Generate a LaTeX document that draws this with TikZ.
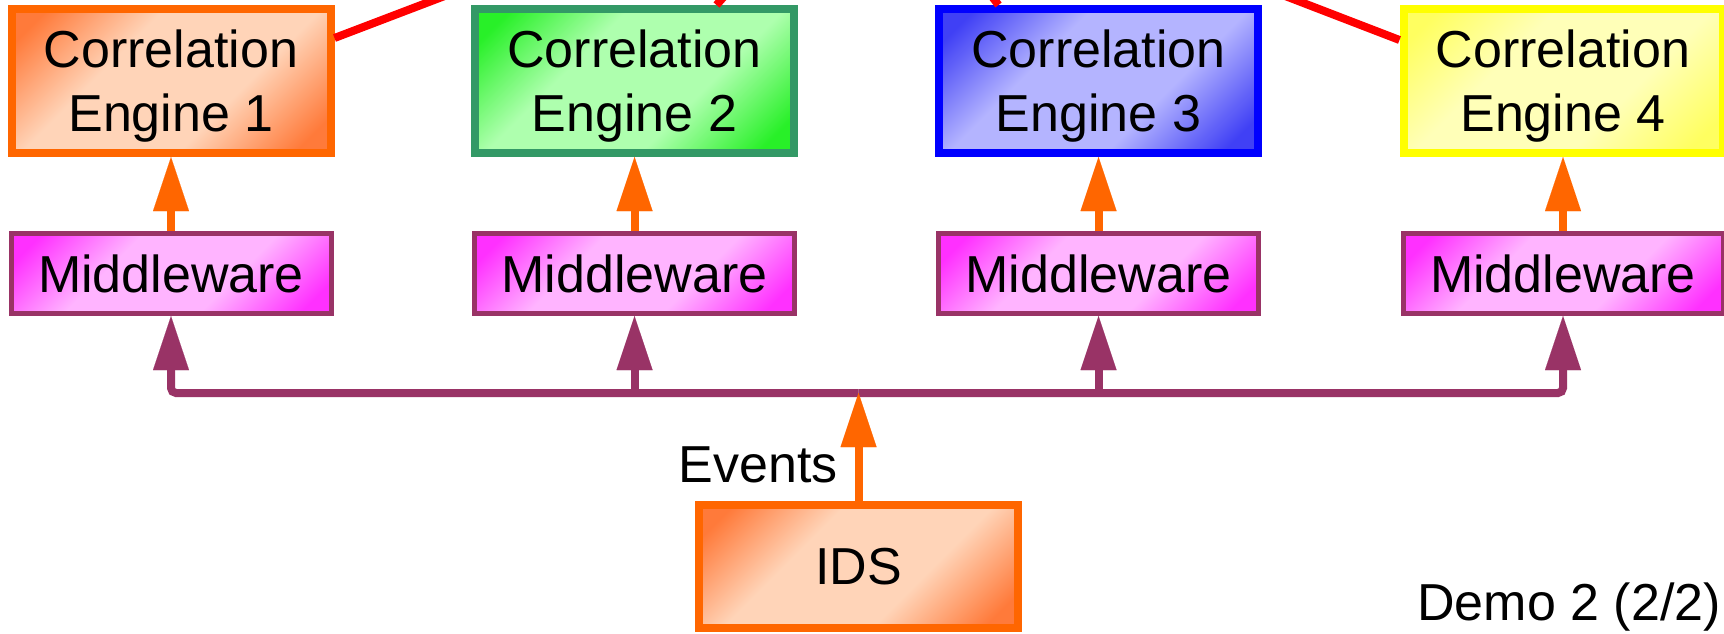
\documentclass[tikz,border=0pt]{standalone}
\usepackage{fontspec}
\newfontfamily\arialf{Liberation Sans}
\usetikzlibrary{arrows.meta}
\definecolor{ceorange}{HTML}{FF6600}
\definecolor{ceodark}{HTML}{FF7A3A}
\definecolor{ceolight}{HTML}{FFD4B8}
\definecolor{cegreen}{HTML}{339966}
\definecolor{cegdark}{HTML}{28F028}
\definecolor{ceglight}{HTML}{AEFFAE}
\definecolor{ceblue}{HTML}{0000FF}
\definecolor{cebdark}{HTML}{4040F5}
\definecolor{ceblight}{HTML}{B4B4FF}
\definecolor{ceyellow}{HTML}{FFFF00}
\definecolor{ceydark}{HTML}{FFFF60}
\definecolor{ceylight}{HTML}{FFFFB8}
\definecolor{mwborder}{HTML}{993366}
\definecolor{mwdark}{HTML}{FF30FF}
\definecolor{mwlight}{HTML}{FFB4FF}
\definecolor{linkred}{HTML}{FF0000}
\pgfdeclareverticalshading{orangerefl}{100bp}{color(0bp)=(ceodark); color(20bp)=(ceodark); color(38bp)=(ceolight); color(62bp)=(ceolight); color(80bp)=(ceodark); color(100bp)=(ceodark)}
\pgfdeclareverticalshading{greenrefl}{100bp}{color(0bp)=(cegdark); color(20bp)=(cegdark); color(38bp)=(ceglight); color(62bp)=(ceglight); color(80bp)=(cegdark); color(100bp)=(cegdark)}
\pgfdeclareverticalshading{bluerefl}{100bp}{color(0bp)=(cebdark); color(20bp)=(cebdark); color(38bp)=(ceblight); color(62bp)=(ceblight); color(80bp)=(cebdark); color(100bp)=(cebdark)}
\pgfdeclareverticalshading{yellowrefl}{100bp}{color(0bp)=(ceydark); color(20bp)=(ceydark); color(38bp)=(ceylight); color(62bp)=(ceylight); color(80bp)=(ceydark); color(100bp)=(ceydark)}
\pgfdeclareverticalshading{magentarefl}{100bp}{color(0bp)=(mwdark); color(20bp)=(mwdark); color(38bp)=(mwlight); color(62bp)=(mwlight); color(80bp)=(mwdark); color(100bp)=(mwdark)}
\tikzset{
  bigtext/.style={font=\arialf\fontsize{52}{64}\selectfont},
  cebox/.style={bigtext, draw, line width=8pt, minimum width=319pt, minimum height=144pt,
    inner sep=0pt, align=center, text depth=0pt},
  mwbox/.style={bigtext, draw=mwborder, line width=5pt, minimum width=320pt, minimum height=80pt,
    inner sep=0pt, text depth=0pt, shading=magentarefl, shading angle=45},
  orangeshade/.style={draw=ceorange, shading=orangerefl, shading angle=45},
  greenshade/.style={draw=cegreen, shading=greenrefl, shading angle=45},
  blueshade/.style={draw=ceblue, shading=bluerefl, shading angle=45},
  yellowshade/.style={draw=ceyellow, shading=yellowrefl, shading angle=45},
  oarrow/.style={draw=ceorange, line width=8pt, -{Triangle[length=54pt,width=36pt,line width=0.01pt]}},
  parrow/.style={draw=mwborder, line width=8pt, -{Triangle[length=54pt,width=36pt,line width=0.01pt]}},
  redlink/.style={draw=linkred, line width=8pt},
  lab/.style={bigtext, inner sep=0pt},
}
\begin{document}
\begin{tikzpicture}[x=1pt,y=-1pt]
\useasboundingbox (0,0) rectangle (1724,633);
\clip (0,0) rectangle (1724,633);
% correlation engines
\node[cebox, orangeshade] (ce1) at (171,81) {Correlation\\Engine 1};
\node[cebox, greenshade] (ce2) at (634.5,81) {Correlation\\Engine 2};
\node[cebox, blueshade] (ce3) at (1098.5,81) {Correlation\\Engine 3};
\node[cebox, yellowshade] (ce4) at (1563,81) {Correlation\\Engine 4};
% middleware
\node[mwbox] (mw1) at (171,273.5) {Middleware};
\node[mwbox] (mw2) at (634.5,273.5) {Middleware};
\node[mwbox] (mw3) at (1098.5,273.5) {Middleware};
\node[mwbox] (mw4) at (1563,273.5) {Middleware};
% IDS
\node[cebox, orangeshade, minimum height=123pt, text depth=-8pt] (ids) at (858.5,566.5) {IDS};
% coordinates
\coordinate (busmid) at (858.5,393);
\coordinate (hub) at (867,-165);
% red links to hub above
\draw[redlink] ([yshift=43pt]ce1.east) -- (hub);
\draw[redlink] ([xshift=82pt]ce2.north) -- (hub);
\draw[redlink] ([xshift=-100pt]ce3.north) -- (hub);
\draw[redlink] ([yshift=41pt]ce4.west) -- (hub);
% middleware to engines
\draw[oarrow] (mw1) -- (ce1);
\draw[oarrow] (mw2) -- (ce2);
\draw[oarrow] (mw3) -- (ce3);
\draw[oarrow] (mw4) -- (ce4);
% bus
\draw[parrow, rounded corners=5pt] (busmid) -| (mw1);
\draw[parrow, rounded corners=5pt] (busmid) -| (mw4);
\draw[parrow] (mw2 |- busmid) -- (mw2);
\draw[parrow] (mw3 |- busmid) -- (mw3);
% events
\draw[oarrow] (ids) -- (busmid);
\node[lab, anchor=base east] (ev) at (838,482) {Events};
\node[lab, anchor=base east] (demo) at (1721,620) {Demo 2 (2/2)};
\end{tikzpicture}
\end{document}
